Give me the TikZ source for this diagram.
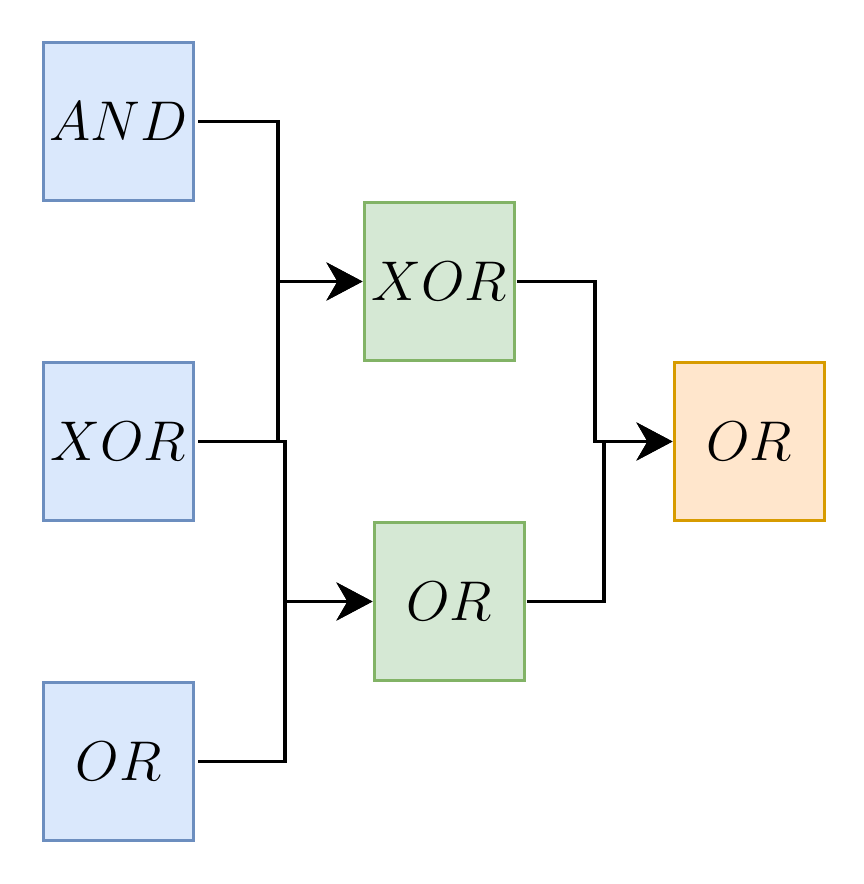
\RequirePackage{fix-cm}
\documentclass[tikz,border=0pt]{standalone}
\usetikzlibrary{arrows.meta}
\definecolor{bfill}{HTML}{DAE8FC}\definecolor{bline}{HTML}{6C8EBF}
\definecolor{gfill}{HTML}{D5E8D4}\definecolor{gline}{HTML}{82B366}
\definecolor{ofill}{HTML}{FFE6CC}\definecolor{oline}{HTML}{D79B00}
\tikzset{
  gate/.style={draw, line width=3pt, minimum width=150pt, minimum height=158pt, inner sep=0pt, font=\fontsize{56}{60}\selectfont},
  blue/.style={gate, fill=bfill, draw=bline},
  green/.style={gate, fill=gfill, draw=gline},
  orange/.style={gate, fill=ofill, draw=oline},
  wire/.style={line width=3.5pt, line join=miter},
  arr/.style={wire, -{Stealth[length=36pt, width=38pt, inset=11pt]}},
}
\begin{document}
\begin{tikzpicture}[x=1pt,y=-1pt]
\useasboundingbox (0,0) rectangle (864,884);
\node[blue] (and) at (118.5,121.5) {$AND$};
\node[blue] (xor1) at (118.5,441.5) {$XOR$};
\node[blue] (or1) at (118.5,761.5) {$OR$};
\node[green] (xor2) at (439,281.5) {$XOR$};
\node[green] (or2) at (449,601.5) {$OR$};
\node[orange] (or3) at (749,441.5) {$OR$};
\draw[arr] ([xshift=3pt]and.east) -| (278,281.5) -- (xor2.west);
\draw[arr] ([xshift=3pt]xor1.east) -| (278,281.5) -- (xor2.west);
\draw[arr] ([xshift=3pt]xor1.east) -| (285,601.5) -- (or2.west);
\draw[arr] ([xshift=3pt]or1.east) -| (285,601.5) -- (or2.west);
\draw[arr] ([xshift=1pt]xor2.east) -| (595,441.5) -- (or3.west);
\draw[arr] ([xshift=1pt]or2.east) -| (604,441.5) -- (or3.west);
\end{tikzpicture}
\end{document}
